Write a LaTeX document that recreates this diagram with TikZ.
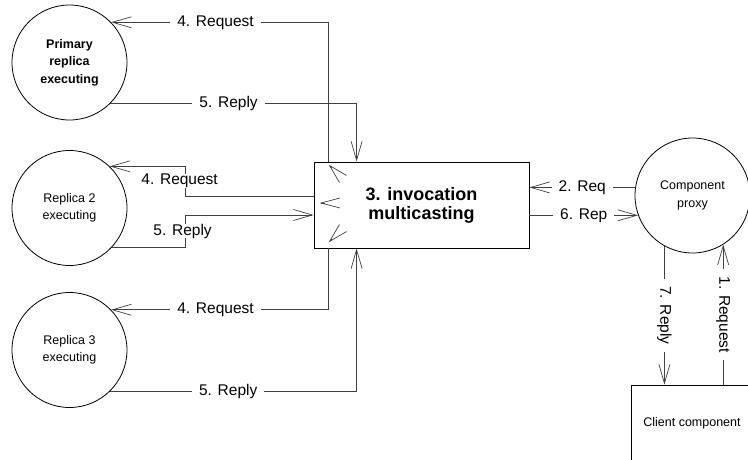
\documentclass[tikz,border=0pt]{standalone}
\usepackage{fontspec}
\setmainfont{Liberation Sans}
\usetikzlibrary{arrows.meta}

\begin{document}
\begin{tikzpicture}[x=1pt, y=-1pt,
    replica/.style={draw, circle, line width=0.8pt, minimum size=115pt, inner sep=0pt, align=center, font=\fontsize{12.5}{17.5}\selectfont},
    procbox/.style={draw, rectangle, line width=0.8pt, inner sep=0pt, align=center},
    conn/.style={draw=black!75, line width=0.7pt, -{Straight Barb[length=19pt,width=11pt]}},
    castarrow/.style={draw=black!75, line width=0.7pt, -{Straight Barb[length=19pt,width=10pt]}},
    lbl/.style={fill=white, inner xsep=7pt, inner ysep=2pt, font=\fontsize{15.5}{18}\selectfont}]
\clip (0,0) rectangle (748,460);
\node[replica, font=\bfseries\fontsize{12.5}{17.5}\selectfont] (primary) at (69.5,62.5) {Primary\\replica\\executing};
\node[replica] (rep2) at (69.5,208) {Replica 2\\executing};
\node[replica] (rep3) at (69.5,350) {Replica 3\\executing};
\node[procbox, minimum width=215pt, minimum height=86pt, font=\bfseries\fontsize{18}{19}\selectfont] (mcast) at (421.5,205) {3. invocation\\multicasting};
\node[replica] (proxy) at (692.5,195.5) {Component\\proxy};
\node[procbox, minimum width=122pt, minimum height=76pt, font=\fontsize{12.5}{15}\selectfont] (client) at (692,423) {Client component};
\draw[conn] ([xshift=15pt]mcast.north west) |- node[lbl, pos=0.76] (req1) {4. Request} (primary.44);
\draw[conn] (primary.-45) -| node[lbl, pos=0.24] (rep1) {5. Reply} ([xshift=43pt]mcast.north west);
\draw[conn] ([yshift=9pt]mcast.west) -- ++(-128,0) |- node[lbl, pos=0.25, xshift=-6pt, inner sep=0pt] (req2) {4. Request} (rep2.46);
\draw[conn] (rep2.-43) -| node[lbl, pos=0.75, xshift=-3pt, inner sep=0pt] (rep2l) {5. Reply} ([xshift=-128pt, yshift=-10pt]mcast.west) -- ([yshift=-10pt]mcast.west);
\draw[conn] ([xshift=15pt]mcast.south west) |- node[lbl, pos=0.76] (req3) {4. Request} (rep3.44);
\draw[conn] (rep3.-46) -| node[lbl, pos=0.24] (rep3l) {5. Reply} ([xshift=43pt]mcast.south west);
\draw[castarrow] ([shift={(18.5pt,-6.5pt)}]mcast.north west) -- ([shift={(15pt,-3pt)}]mcast.north west);
\draw[castarrow] ([shift={(11pt,2pt)}]mcast.west) -- ([shift={(6pt,2pt)}]mcast.west);
\draw[castarrow] ([shift={(18.5pt,9.5pt)}]mcast.south west) -- ([shift={(15pt,6pt)}]mcast.south west);
\draw[conn] (proxy.172) -- node[lbl] (req) {2. Req} (mcast.east |- proxy.172);
\draw[conn] (mcast.east |- proxy.200) -- node[lbl] (rep) {6. Rep} (proxy.200);
\draw[conn] (proxy.-119) -- node[lbl, rotate=-90] (reply) {7. Reply} (proxy.-119 |- client.north);
\draw[conn] (client.north -| proxy.-58) -- node[lbl, rotate=-90] (request) {1. Request} (proxy.-58);
\end{tikzpicture}
\end{document}
